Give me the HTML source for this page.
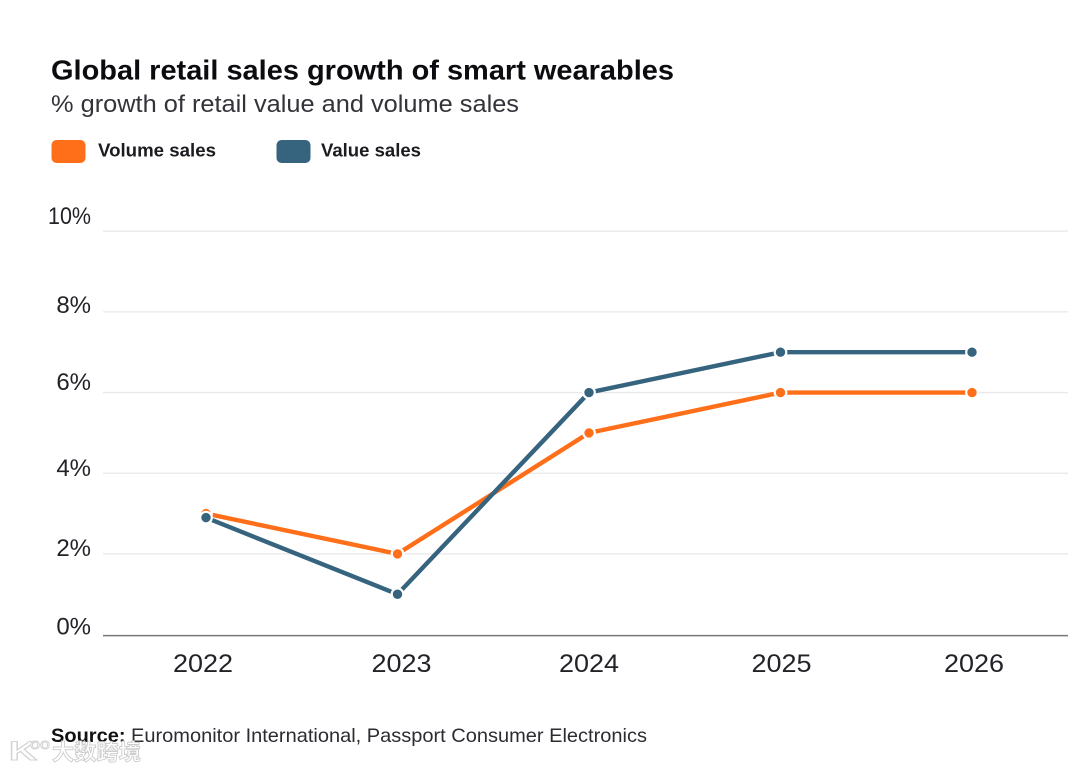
<!DOCTYPE html>
<html lang="en">
<head>
<meta charset="utf-8">
<title>Global retail sales growth of smart wearables</title>
<style>
html,body{margin:0;padding:0;background:#fff;width:1080px;height:771px;overflow:hidden}
svg{display:block;font-family:"Liberation Sans","Noto Sans CJK SC",sans-serif}
</style>
</head>
<body>
<svg id="chart" width="1080" height="771" viewBox="0 0 1080 771" xmlns="http://www.w3.org/2000/svg">
  <rect width="1080" height="771" fill="#fff"/>
  <text x="51" y="79.5" font-size="28" font-weight="700" fill="#0c0c10" textLength="623" lengthAdjust="spacingAndGlyphs">Global retail sales growth of smart wearables</text>
  <text x="51" y="112" font-size="24" fill="#33343a" textLength="468" lengthAdjust="spacingAndGlyphs">% growth of retail value and volume sales</text>
  <g>
    <g>
      <rect x="51.5" y="140" width="34" height="23" rx="5" fill="#ff6f1a"/>
      <text x="98" y="156.5" font-size="18" font-weight="700" fill="#1b1b20" textLength="118" lengthAdjust="spacingAndGlyphs">Volume sales</text>
    </g>
    <g>
      <rect x="276.5" y="140" width="34" height="23" rx="5" fill="#36647e"/>
      <text x="321" y="156.5" font-size="18" font-weight="700" fill="#1b1b20" textLength="100" lengthAdjust="spacingAndGlyphs">Value sales</text>
    </g>
  </g>
  <g id="grid"></g>
  <line x1="103" x2="1068" y1="635.6" y2="635.6" stroke="#77777b" stroke-width="1.5"/>
  <g id="yticks"></g>
  <g id="xticks"></g>
  <g id="series"></g>
  <text x="51" y="742" font-size="19.5" fill="#2b2c32" textLength="596" lengthAdjust="spacingAndGlyphs"><tspan font-weight="700" fill="#111">Source:</tspan> Euromonitor International, Passport Consumer Electronics</text>
  <g>
    <text x="9" y="760" font-size="27" font-weight="700" fill="#fff" stroke="#d4d4d4" stroke-width="1.1" textLength="28" lengthAdjust="spacingAndGlyphs">K</text>
    <text x="30" y="749" font-size="15" fill="#fff" stroke="#d4d4d4" stroke-width="0.9" textLength="20" lengthAdjust="spacingAndGlyphs">oo</text>
    <text x="52" y="760" font-size="22" font-weight="700" fill="#fff" stroke="#cdcdcd" stroke-width="0.9" textLength="89" lengthAdjust="spacingAndGlyphs">大数跨境</text>
  </g>
</svg>
<script>
const categories = ["2022", "2023", "2024", "2025", "2026"];
const volumeSales = [3, 2, 5, 6, 6];
const valueSales = [2.9, 1, 6, 7, 7];
const tickValues = [2, 4, 6, 8, 10];
const tickLabels = ["2%", "4%", "6%", "8%", "10%"];
const baselineLabel = "0%";

const svgNS = "http://www.w3.org/2000/svg";
const plot = { left: 103, right: 1068, bottom: 634.6, top: 231.2 };
const yMax = 10;
const firstX = 206, stepX = 191.5;
const xScale = i => firstX + i * stepX;
const yScale = v => plot.bottom - (v / yMax) * (plot.bottom - plot.top);

function make(tag, attrs, parent) {
  const el = document.createElementNS(svgNS, tag);
  for (const k in attrs) el.setAttribute(k, attrs[k]);
  parent.appendChild(el);
  return el;
}

const grid = document.getElementById("grid");
const yticks = document.getElementById("yticks");
const xticks = document.getElementById("xticks");
const seriesGroup = document.getElementById("series");

/* the reference's y labels sit slightly irregularly relative to their gridlines */
function labelLift(v) {
  if (v === 10) return 7;
  if (v === 8) return -1.3;
  if (v === 6) return 2.5;
  if (v === 4) return -2.8;
  if (v === 2) return -2;
  return 0;
}

/* the reference's year labels are not exactly centred on their points */
function labelShift(i) {
  if (i === 0) return -3;
  if (i === 1) return 4;
  if (i === 3) return 1;
  if (i === 4) return 2;
  return 0;
}

function drawYLabel(v, text) {
  const t = make("text", {
    x: 91, y: yScale(v) - labelLift(v), "text-anchor": "end",
    "font-size": 24, fill: "#222328"
  }, yticks);
  if (v === 10) {
    t.setAttribute("textLength", "43");
    t.setAttribute("lengthAdjust", "spacingAndGlyphs");
  }
  
  
  t.textContent = text;
}

tickValues.forEach((v, i) => {
  const y = yScale(v);
  const line = make("line", {
    x1: plot.left, x2: plot.right, y1: y, y2: y,
    stroke: "#e9e9eb", "stroke-width": 1.3
  }, grid);
  
  
  drawYLabel(v, tickLabels[i]);
});
drawYLabel(0, baselineLabel);

categories.forEach((c, i) => {
  const t = make("text", {
    x: xScale(i) + labelShift(i), y: 672, "text-anchor": "middle",
    "font-size": 25, fill: "#222328",
    textLength: 60, lengthAdjust: "spacingAndGlyphs"
  }, xticks);
  
  
  t.textContent = c;
});

function drawSeries(values, color, name) {
  const g = make("g", {}, seriesGroup);
  
  
  const pts = values.map((v, i) => xScale(i) + "," + yScale(v)).join(" ");
  const line = make("polyline", {
    points: pts, fill: "none", stroke: color,
    "stroke-width": 4.4, "stroke-linejoin": "round"
  }, g);
  
  
  values.forEach((v, i) => {
    const p = make("circle", {
      cx: xScale(i), cy: yScale(v), r: 5.8,
      fill: color, stroke: "#fff", "stroke-width": 2.2
    }, g);
    
    
  });
}

drawSeries(volumeSales, "#ff6f1a", "series-volume-sales");
drawSeries(valueSales, "#36647e", "series-value-sales");
</script>
</body>
</html>
